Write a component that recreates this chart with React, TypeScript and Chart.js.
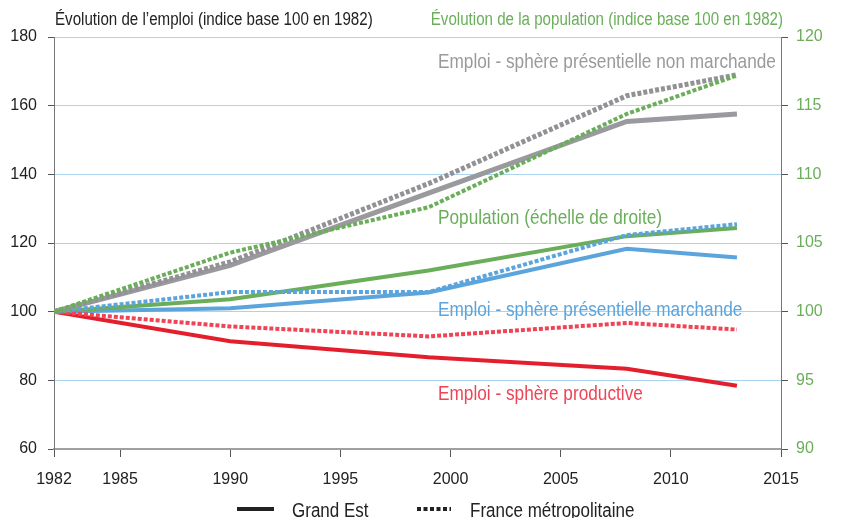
import React, { useEffect, useRef } from "react";
import { Chart, registerables } from "chart.js";

Chart.register(...registerables);

const years = [1982, 1990, 1999, 2008, 2013];
const xTicks = [1982, 1985, 1990, 1995, 2000, 2005, 2010, 2015];

// Grand Est (solid)
const nonMarchandeGE = [100, 113.5, 134.5, 155.4, 157.6];
const marchandeGE = [100, 101, 105.6, 118.3, 115.8];
const productiveGE = [100, 91.4, 86.7, 83.4, 78.4];
const populationGE = [100, 100.9, 103, 105.5, 106.1];

// France métropolitaine (dotted)
const nonMarchandeFR = [100, 114.5, 137.3, 162.9, 169];
const marchandeFR = [100, 105.7, 105.7, 122.3, 125.5];
const productiveFR = [100, 95.7, 92.8, 96.7, 94.8];
const populationFR = [100, 104.3, 107.6, 114.4, 117.2];

const GREY = "#9a9a9e";
const GREEN = "#6aae5a";
const BLUE = "#5ba4dc";
const RED = "#e41f2d";
const RED_TXT = "#ee4455";

const FONT = "'Liberation Sans', Arial, sans-serif";

const toPts = (vals: number[]) => vals.map((v, i) => ({ x: years[i], y: v }));

function narrowText(
  ctx: CanvasRenderingContext2D,
  text: string,
  x: number,
  y: number,
  size: number,
  sx: number,
  color: string,
  align: CanvasTextAlign
) {
  ctx.save();
  ctx.translate(x, y);
  ctx.scale(sx, 1);
  ctx.font = `${size}px ${FONT}`;
  ctx.fillStyle = color;
  ctx.textAlign = align;
  ctx.textBaseline = "middle";
  ctx.fillText(text, 0, 0);
  ctx.restore();
}

const textPlugin = {
  id: "texts",
  afterDraw(chart: any) {
    const ctx = chart.ctx as CanvasRenderingContext2D;
    ctx.save();
    // titles
    narrowText(ctx, "Évolution de l’emploi (indice base 100 en 1982)", 55, 20, 18, 0.84, "#222", "left");
    narrowText(ctx, "Évolution de la population (indice base 100 en 1982)", 783, 20, 18, 0.84, GREEN, "right");

    // annotations
    narrowText(ctx, "Emploi - sphère présentielle non marchande", 438, 62, 21, 0.82, GREY, "left");
    narrowText(ctx, "Population (échelle de droite)", 438, 218, 21, 0.82, GREEN, "left");
    narrowText(ctx, "Emploi - sphère présentielle marchande", 438, 310, 21, 0.82, BLUE, "left");
    narrowText(ctx, "Emploi - sphère productive", 438, 394, 21, 0.82, RED_TXT, "left");

    // legend
    ctx.strokeStyle = "#222";
    ctx.lineWidth = 4;
    ctx.beginPath();
    ctx.moveTo(237, 509);
    ctx.lineTo(274, 509);
    ctx.stroke();
    ctx.setLineDash([4, 2.5]);
    ctx.beginPath();
    ctx.moveTo(417, 509);
    ctx.lineTo(451, 509);
    ctx.stroke();
    ctx.setLineDash([]);
    narrowText(ctx, "Grand Est", 292, 511, 20, 0.85, "#222", "left");
    narrowText(ctx, "France métropolitaine", 470, 511, 20, 0.85, "#222", "left");
    ctx.restore();
  },
};

export default function App() {
  const ref = useRef<HTMLCanvasElement | null>(null);
  useEffect(() => {
    document.body.style.margin = "0";
    if (!ref.current) return;
    const solid = (label: string, data: number[], color: string, axis: string, w: number, order: number) => ({
      label,
      data: toPts(data),
      borderColor: color,
      backgroundColor: color,
      borderWidth: w,
      pointRadius: 0,
      tension: 0,
      fill: false,
      yAxisID: axis,
      order,
    });
    const dotted = (label: string, data: number[], color: string, axis: string, w: number, order: number) => ({
      ...solid(label, data, color, axis, w, order),
      borderDash: [4, 2],
      borderCapStyle: "butt",
    });
    const chart = new Chart(ref.current, {
      type: "line",
      data: {
        datasets: [
          dotted("Population FR", populationFR, GREEN, "y2", 4, 1),
          dotted("Non marchande FR", nonMarchandeFR, "#919196", "y", 5, 2),
          dotted("Marchande FR", marchandeFR, BLUE, "y", 4, 3),
          dotted("Productive FR", productiveFR, RED_TXT, "y", 4, 4),
          solid("Population GE", populationGE, GREEN, "y2", 4, 5),
          solid("Non marchande GE", nonMarchandeGE, GREY, "y", 5, 6),
          solid("Marchande GE", marchandeGE, BLUE, "y", 4, 7),
          solid("Productive GE", productiveGE, RED, "y", 4, 8),
        ] as any,
      },
      options: {
        responsive: false,
        animation: false,
        devicePixelRatio: 1,
        layout: { padding: { top: 37, left: 0, right: 0, bottom: 0 } },
        plugins: { legend: { display: false }, tooltip: { enabled: false }, title: { display: false } },
        scales: {
          x: {
            type: "linear",
            min: 1982,
            max: 2015,
            afterBuildTicks: (s: any) => {
              s.ticks = xTicks.map((v) => ({ value: v }));
            },
            afterFit: (s: any) => {
              s.height = 69;
            },
            grid: { drawOnChartArea: false, drawTicks: true, tickLength: 8, tickColor: "#555", tickWidth: 1 },
            border: { display: true, color: "#a0a0a0", width: 2 },
            ticks: {
              autoSkip: false,
              maxRotation: 0,
              padding: 13,
              color: "#222",
              font: { family: FONT, size: 16 },
              callback: (v: any) => String(v),
            },
          },
          y: {
            position: "left",
            min: 60,
            max: 180,
            afterFit: (s: any) => {
              s.width = 54;
            },
            grid: { color: "#a9d4f0", lineWidth: 1, drawTicks: true, tickLength: 6, tickColor: "#555" },
            border: { display: true, color: "#777", width: 1 },
            ticks: { stepSize: 20, padding: 11, color: "#222", font: { family: FONT, size: 16 } },
          },
          y2: {
            position: "right",
            min: 90,
            max: 120,
            afterFit: (s: any) => {
              s.width = 60;
            },
            grid: { drawOnChartArea: false, drawTicks: true, tickLength: 7, tickColor: "#555" },
            border: { display: true, color: "#777", width: 1 },
            ticks: { stepSize: 5, padding: 8, color: GREEN, font: { family: FONT, size: 16 } },
          },
        },
      },
      plugins: [textPlugin],
    });
    return () => chart.destroy();
  }, []);
  return <canvas ref={ref} width={841} height={518} style={{ display: "block" }} />;
}
